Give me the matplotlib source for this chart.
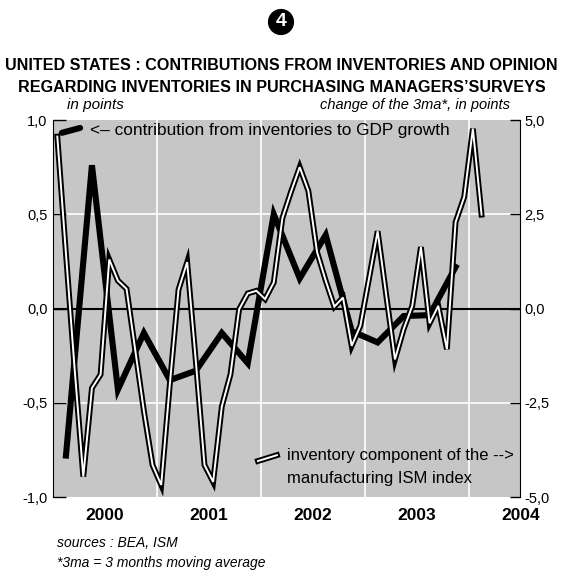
import matplotlib
matplotlib.use('Agg')
import matplotlib.pyplot as plt
from matplotlib.lines import Line2D
import pandas as pd

# fonts (narrow not available, use Liberation Sans)
plt.rcParams['font.family'] = ['Liberation Sans', 'DejaVu Sans']

# data: contribution of inventories to GDP growth (quarterly, left axis)
gdp_quarters = pd.period_range('2000Q1', '2003Q4', freq='Q')
gdp_contrib = [-0.78, 0.76, -0.43, -0.13, -0.38, -0.33, -0.13, -0.29,
               0.50, 0.16, 0.39, -0.12, -0.18, -0.04, -0.035, 0.22]

# data: ISM inventory component, change of 3ma (monthly, right axis)
ism_months = pd.period_range('2000-01', '2004-02', freq='M')
ism_change = [4.56, 1.45, -1.6, -4.46, -2.11, -1.75, 1.3, 0.74, 0.52, -1.1,
              -2.72, -4.15, -4.68, -2.0, 0.5, 1.23, -1.4, -4.15, -4.6, -2.6,
              -1.75, -0.02, 0.4, 0.47, 0.25, 0.69, 2.4, 3.1, 3.75, 3.12,
              1.5, 0.74, 0.05, 0.29, -0.99, -0.46, 0.79, 2.05, 0.34, -1.35,
              -0.55, 0.07, 1.63, -0.39, 0.07, -1.08, 2.29, 2.96, 4.77, 2.49]

year_labels = ['2000', '2001', '2002', '2003', '2004']
year_bounds = [2001, 2002, 2003, 2004]
left_ticks = [1.0, 0.5, 0.0, -0.5, -1.0]
left_labels = ['1,0', '0,5', '0,0', '-0,5', '-1,0']
right_ticks = [5.0, 2.5, 0.0, -2.5, -5.0]
right_labels = ['5,0', '2,5', '0,0', '-2,5', '-5,0']

# decimal-year positions (middle of each period)
gdp_x = [p.year + (p.quarter - 0.5) / 4 for p in gdp_quarters]
ism_x = [p.year + (p.month - 0.5) / 12 for p in ism_months]

bg_gray = '#c6c6c6'

fig = plt.figure(figsize=(5.63, 5.72), dpi=100)
ax = fig.add_axes([0.0941, 0.1311, 0.8304, 0.6591])
ax.set_facecolor(bg_gray)
ax.set_xlim(2000, 2004.5)
ax.set_ylim(-1.0, 1.0)

# grid
for yb in year_bounds:
    ax.axvline(yb, color='white', lw=1.2, zorder=1)
for g in (0.5, -0.5):
    ax.axhline(g, color='white', lw=1.2, zorder=1)
ax.axhline(0, color='black', lw=1.5, zorder=2)

# GDP contribution: thick black line
ax.plot(gdp_x, gdp_contrib, color='black', lw=4.4, solid_joinstyle='miter', zorder=3)

# ISM on the right axis: double line (black outline, white core)
ax2 = ax.twinx()
ax2.set_ylim(-5.0, 5.0)
ax2.plot(ism_x, ism_change, color='black', lw=4.2, solid_joinstyle='miter', zorder=4)
ax2.plot(ism_x, ism_change, color='white', lw=1.4, solid_joinstyle='miter', zorder=5)

# axes styling
for a in (ax, ax2):
    a.spines['top'].set_visible(False)
    a.spines['bottom'].set_visible(False)
ax.spines['right'].set_visible(False)
ax2.spines['left'].set_visible(False)

ax.set_yticks(left_ticks)
ax.set_yticklabels(left_labels)
ax.tick_params(axis='y', direction='in', length=9, width=1, labelsize=10.5, pad=4)
ax2.set_yticks(right_ticks)
ax2.set_yticklabels(right_labels)
ax2.tick_params(axis='y', direction='in', length=7, width=1, labelsize=10.5, pad=3)

ax.set_xticks([2000.5, 2001.5, 2002.5, 2003.5, 2004.5])
ax.set_xticklabels(year_labels, fontweight='bold', fontsize=12.5)
ax.tick_params(axis='x', length=0, pad=8)

# legend-like annotations inside the plot
ax.add_line(Line2D([0.019, 0.058], [0.966, 0.979], transform=ax.transAxes,
                   color='black', lw=4.4, solid_capstyle='round', zorder=6))
ax.text(0.079, 0.971, '<\u2013 contribution from inventories to GDP growth',
        transform=ax.transAxes, fontsize=12.4, va='center', ha='left', zorder=6)

ax.add_line(Line2D([0.4385, 0.479], [0.0955, 0.111], transform=ax.transAxes,
                   color='black', lw=4.2, zorder=6))
ax.add_line(Line2D([0.4385, 0.479], [0.0955, 0.111], transform=ax.transAxes,
                   color='white', lw=1.4, zorder=7))
ax.text(0.5005, 0.111, 'inventory component of the -->',
        transform=ax.transAxes, fontsize=12, va='center', ha='left', zorder=6)
ax.text(0.5005, 0.050, 'manufacturing ISM index',
        transform=ax.transAxes, fontsize=12, va='center', ha='left', zorder=6)

# axis captions
fig.text(67 / 563, 1 - 105 / 572, 'in points', fontsize=11, style='italic',
         ha='left', va='center')
fig.text(510 / 563, 1 - 105 / 572, 'change of the 3ma*, in points', fontsize=10.5,
         style='italic', ha='right', va='center')

# number badge + title
fig.text(281 / 563, 1 - 22 / 572, '4', fontsize=14, fontweight='bold', color='white',
         ha='center', va='center',
         bbox=dict(boxstyle='circle,pad=0.2', facecolor='black', edgecolor='black'))
fig.text(0.5, 1 - 66 / 572, 'UNITED STATES : CONTRIBUTIONS FROM INVENTORIES AND OPINION',
         fontsize=11.6, fontweight='bold', ha='center', va='center')
fig.text(0.5, 1 - 88 / 572, 'REGARDING INVENTORIES IN PURCHASING MANAGERS\u2019SURVEYS',
         fontsize=11.6, fontweight='bold', ha='center', va='center')

# footnotes
fig.text(57 / 563, 1 - 543 / 572, 'sources : BEA, ISM', fontsize=10, style='italic',
         ha='left', va='center')
fig.text(57 / 563, 1 - 563 / 572, '*3ma = 3 months moving average', fontsize=10,
         style='italic', ha='left', va='center')

plt.savefig('out.png', dpi=100)
